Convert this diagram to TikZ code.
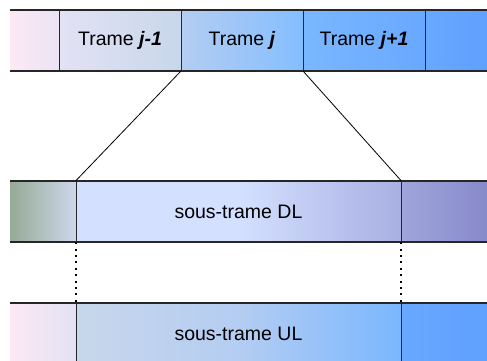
\documentclass[tikz,border=0pt]{standalone}
\usepackage{fontspec}
\setmainfont{Liberation Sans}
\definecolor{pinkA}{RGB}{253,232,244}
\definecolor{lavA}{RGB}{234,228,245}
\definecolor{lavB}{RGB}{226,226,244}
\definecolor{greyB}{RGB}{200,215,235}
\definecolor{blueA}{RGB}{180,205,242}
\definecolor{blueB}{RGB}{132,190,255}
\definecolor{blueC}{RGB}{122,183,255}
\definecolor{blueD}{RGB}{104,168,255}
\definecolor{blueE}{RGB}{96,160,255}
\definecolor{greenA}{RGB}{150,170,150}
\definecolor{greenB}{RGB}{205,215,235}
\definecolor{paleA}{RGB}{212,224,255}
\definecolor{violA}{RGB}{168,176,226}
\definecolor{violB}{RGB}{160,165,220}
\definecolor{violC}{RGB}{135,138,200}
\begin{document}
\begin{tikzpicture}[x=1pt,y=1pt,
  font=\fontsize{19.5}{22}\selectfont,
  cell/.style={rectangle,inner sep=0pt,minimum height=61pt},
  edge/.style={line width=2.4pt,black!85},
  sep/.style={line width=1.2pt,black!85},
  dots/.style={line width=2pt,dash pattern=on 2pt off 4.4pt}]
\clip (0,0) rectangle (487,360);
% trames
\path (34.5,319.5) node[cell,minimum width=49pt,left color=pinkA,right color=lavA](T0){}
 (120,319.5) node[cell,minimum width=122pt,left color=lavB,right color=greyB](T1){Trame \textbf{\textit{j-1}}}
 (242,319.5) node[cell,minimum width=122pt,left color=blueA,right color=blueB](T2){Trame \textbf{\textit{j}}}
 (364,319.5) node[cell,minimum width=122pt,left color=blueC,right color=blueD](T3){Trame \textbf{\textit{j+1}}}
 (456,319.5) node[cell,minimum width=62pt,left color=blueD,right color=blueE](T4){};
% sous-trame DL
\path (43,148.5) node[cell,minimum width=66pt,left color=greenA,right color=greenB](D0){}
 (238.5,148.5) node[cell,minimum width=325pt,left color=paleA,right color=violA,middle color=paleA](D1){sous-trame DL}
 (444,148.5) node[cell,minimum width=86pt,left color=violB,right color=violC](D2){};
% sous-trame UL
\path (43,26.5) node[cell,minimum width=66pt,left color=pinkA,right color=lavB](U0){}
 (238.5,26.5) node[cell,minimum width=325pt,left color=greyB,right color=blueC,middle color=blueA](U1){sous-trame UL}
 (444,26.5) node[cell,minimum width=86pt,left color=blueD,right color=blueE](U2){};

\draw[edge] (T0.north west) -- (T4.north east);
\draw[edge] (T0.south west) -- (T4.south east);
\draw[edge] (D0.north west) -- (D2.north east);
\draw[edge] (D0.south west) -- (D2.south east);
\draw[edge] (U0.north west) -- (U2.north east);

\draw[sep] (T0.north east) -- (T0.south east);
\draw[sep] (T1.north east) -- (T1.south east);
\draw[sep] (T2.north east) -- (T2.south east);
\draw[sep] (T3.north east) -- (T3.south east);
\draw[sep] (D0.north east) -- (D0.south east);
\draw[sep] (D1.north east) -- (D1.south east);
\draw[sep] (U0.north east) -- (U0.south east);
\draw[sep] (U1.north east) -- (U1.south east);

\draw[line width=0.8pt] (T2.south west) -- (D1.north west);
\draw[line width=0.8pt] (T2.south east) -- (D1.north east);
\draw[dots] (D1.south west) -- (U1.north west);
\draw[dots] (D1.south east) -- (U1.north east);
\end{tikzpicture}
\end{document}
